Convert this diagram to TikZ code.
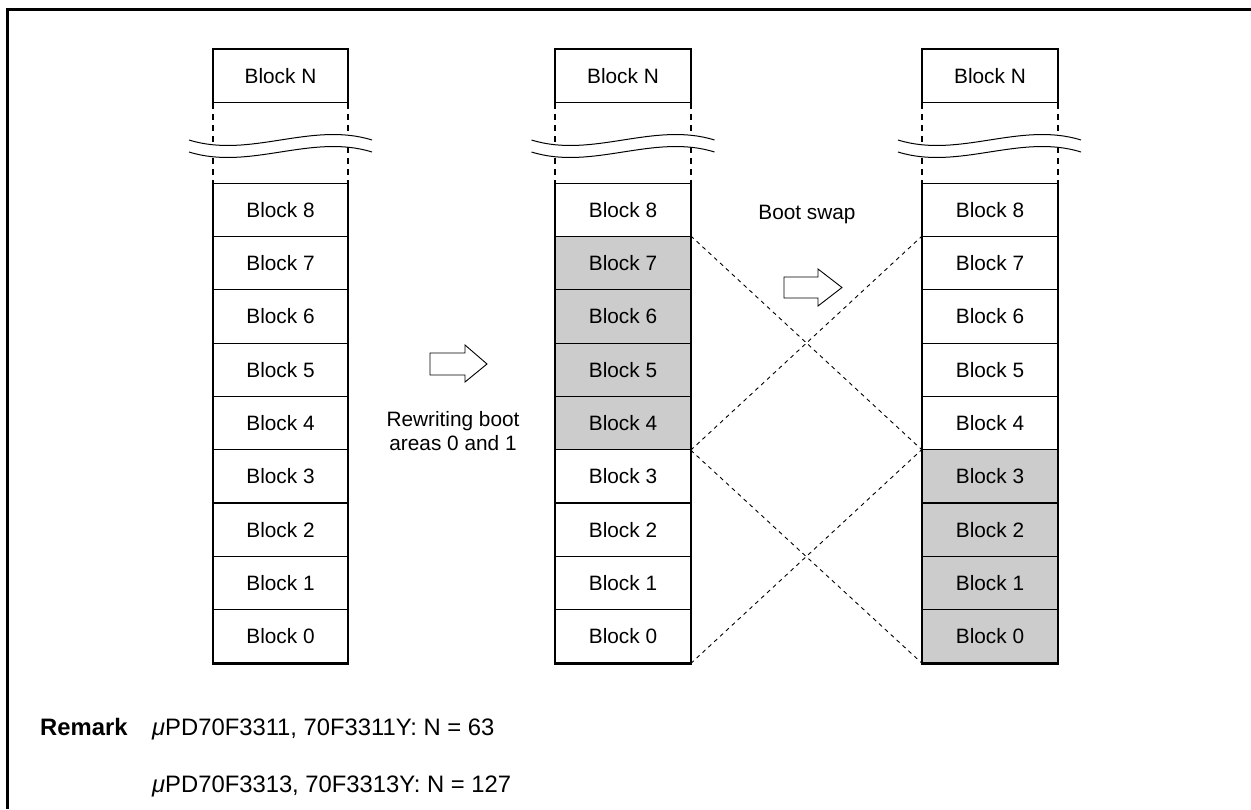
\documentclass[tikz,border=0pt]{standalone}
\usepackage{fontspec}
\setmainfont{Liberation Sans}
\definecolor{shade}{RGB}{204,204,204}
\begin{document}
\begin{tikzpicture}[x=1pt,y=-1pt,
  txt/.style={inner sep=0pt, font=\fontsize{20.8}{25}\selectfont},
  rtxt/.style={inner sep=0pt, anchor=base west, font=\fontsize{23.8}{28}\selectfont},
  blk/.style={txt, draw, line width=1pt, minimum width=134.5pt, minimum height=53.333pt},
  outline/.style={line width=2.2pt},
  dashside/.style={line width=2.2pt, dash pattern=on 6pt off 5pt},
  cross/.style={line width=0.9pt, dash pattern=on 4pt off 4pt},
  wave/.style={line width=1pt},
  blockarrow/.style={line width=0.9pt, fill=white, line join=miter}]
\useasboundingbox (0,0) rectangle (1251,809);
% frame
\draw[line width=3pt] (7,809) -- (7,9) -- (1251,9);

% columns
\foreach \k in {0,...,8}
  \node[blk] (L\k) at (280.5, {663-(\k+0.5)*53.333}) {Block \k};
\foreach \k/\f in {0/white,1/white,2/white,3/white,4/shade,5/shade,6/shade,7/shade,8/white}
  \node[blk, fill=\f] (M\k) at (623, {663-(\k+0.5)*53.333}) {Block \k};
\foreach \k/\f in {0/shade,1/shade,2/shade,3/shade,4/white,5/white,6/white,7/white,8/white}
  \node[blk, fill=\f] (R\k) at (990, {663-(\k+0.5)*53.333}) {Block \k};
\node[blk] (LN) at (280.5, 76) {Block N};
\node[blk] (MN) at (623, 76) {Block N};
\node[blk] (RN) at (990, 76) {Block N};

\foreach \c in {L,M,R} {
  \draw[outline] (\c N.south west) -- (\c N.north west) -- (\c N.north east) -- (\c N.south east);
  \draw[outline] (\c 8.north west) -- (\c 0.south west) -- (\c 0.south east) -- (\c 8.north east);
  \draw[line width=1.6pt] (\c 2.north west) -- (\c 2.north east);
  \draw[dashside] (\c N.south west) -- (\c 8.north west);
  \draw[dashside] (\c N.south east) -- (\c 8.north east);
}

% break waves
\foreach \cx in {281,623.5,990} {
  \path[fill=white] ({\cx-92},140) .. controls ({\cx-31},159) and ({\cx+30},121) .. ({\cx+91},140)
     -- ({\cx+91},152) .. controls ({\cx+30},133) and ({\cx-31},171) .. ({\cx-92},152) -- cycle;
  \draw[wave] ({\cx-92},140) .. controls ({\cx-31},159) and ({\cx+30},121) .. ({\cx+91},140);
  \draw[wave] ({\cx-92},152) .. controls ({\cx-31},171) and ({\cx+30},133) .. ({\cx+91},152);
}

% swap cross lines
\draw[cross] (M7.north east) -- (R4.south west);
\draw[cross] (M4.south east) -- (R7.north west);
\draw[cross] (M4.south east) -- (R0.south west);
\draw[cross] (M0.south east) -- (R3.north west);

% block arrows
\draw[blockarrow] (430,353) -- (465,353) -- (465,345) -- (487,364) -- (465,382) -- (465,375) -- (430,375) -- cycle;
\draw[blockarrow] (784,277) -- (818,277) -- (818,269) -- (842,287.5) -- (818,306) -- (818,298) -- (784,298) -- cycle;

% labels
\node[txt, anchor=base] (rw1) at (453,426) {Rewriting boot};
\node[txt, anchor=base] (rw2) at (453,450) {areas 0 and 1};
\node[txt, anchor=base] (bs) at (807,219) {Boot swap};

% remark
\node[rtxt, font=\fontsize{23.8}{28}\selectfont\bfseries] (rem) at (40,735) {Remark};
\node[rtxt] (r1) at (152,735) {\textit{μ}PD70F3311, 70F3311Y: N = 63};
\node[rtxt] (r2) at (152,792) {\textit{μ}PD70F3313, 70F3313Y: N = 127};
\end{tikzpicture}
\end{document}
